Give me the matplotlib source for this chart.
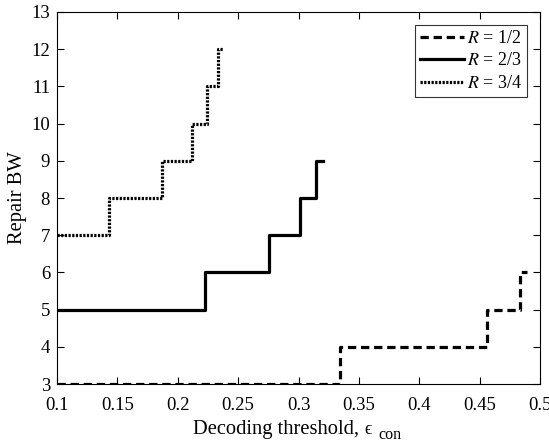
import matplotlib
matplotlib.use('Agg')
import matplotlib.pyplot as plt

plt.rcParams['font.family'] = 'Liberation Serif'
plt.rcParams['mathtext.fontset'] = 'stix'

# R = 1/2
x_half = [0.1, 0.334, 0.456, 0.483, 0.489]
y_half = [3, 4, 5, 6, 6]
# R = 2/3
x_two = [0.1, 0.2225, 0.2755, 0.301, 0.3145, 0.32]
y_two = [5, 6, 7, 8, 9, 9]
# R = 3/4
x_three = [0.1, 0.143, 0.187, 0.212, 0.224, 0.233, 0.2375]
y_three = [7, 8, 9, 10, 11, 12, 12]

labels = [r'$R$ = 1/2', r'$R$ = 2/3', r'$R$ = 3/4']

fig = plt.figure(figsize=(5.49, 4.42), dpi=100)
ax = fig.add_axes([0.1038, 0.131, 0.88, 0.842])

ax.step(x_half, y_half, where='post', color='black', lw=2.3, ls=(0, (2.6, 1.5)), label=labels[0])
ax.step(x_two, y_two, where='post', color='black', lw=2.3, ls='-', label=labels[1])
ax.step(x_three, y_three, where='post', color='black', lw=2.3, ls=(0, (0.7, 0.45)), label=labels[2])

ax.set_xlim(0.1, 0.5)
ax.set_ylim(3, 13)
ax.set_xticks([0.1, 0.15, 0.2, 0.25, 0.3, 0.35, 0.4, 0.45, 0.5])
ax.set_xticklabels(['0.1', '0.15', '0.2', '0.25', '0.3', '0.35', '0.4', '0.45', '0.5'])
ax.set_yticks(range(3, 14))
ax.tick_params(direction='in', top=True, right=True, labelsize=13.5, length=5, width=0.8)
ax.tick_params(axis='x', pad=9)
ax.tick_params(axis='y', pad=5)

# x label drawn in pieces so the subscript sits low like the original
fig.text(193 / 549, 8 / 442, 'Decoding threshold,', fontsize=14.8, ha='left', va='baseline')
fig.text(364 / 549, 8 / 442, '\u03f5', fontsize=13, ha='left', va='baseline',
         family=['Liberation Serif', 'DejaVu Serif'])
fig.text(378 / 549, 3 / 442, 'con', fontsize=11.5, ha='left', va='baseline')
ax.set_ylabel('Repair BW', fontsize=14.8, labelpad=3)

leg = ax.legend(loc='upper right', fontsize=13, fancybox=False, edgecolor='black',
                handlelength=2.45, handletextpad=0.15, borderpad=0.3, labelspacing=0.3,
                borderaxespad=0.7)
leg.get_frame().set_linewidth(0.8)

fig.savefig('out.png', dpi=100)
